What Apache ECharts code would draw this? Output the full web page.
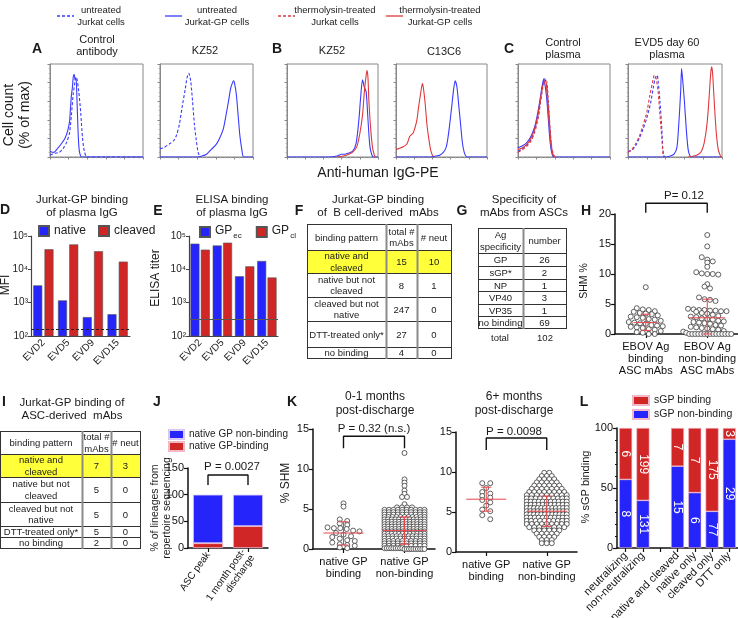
<!DOCTYPE html>
<html><head><meta charset="utf-8">
<script src="https://cdn.jsdelivr.net/npm/echarts/dist/echarts.min.js"></script>
<style>html,body{margin:0;padding:0;background:#fff}#c{width:738px;height:618px}</style>
</head><body><div id="c"></div>
<script>
const FONT = '"Liberation Sans", Arial, Helvetica, sans-serif';
const BLUE = '#2424fb', RED = '#d12626', CBLUE = '#3a3aff', CRED = '#e0393b';

// ---------------- DATA ----------------
const seriesNames = ['untreated Jurkat cells','untreated Jurkat-GP cells','thermolysin-treated Jurkat cells','thermolysin-treated Jurkat-GP cells'];
const legendLine1 = ['untreated','untreated','thermolysin-treated','thermolysin-treated'];
const legendLine2 = ['Jurkat cells','Jurkat-GP cells','Jurkat cells','Jurkat-GP cells'];
const histTitles = ['Control\nantibody','KZ52','KZ52','C13C6','Control\nplasma','EVD5 day 60\nplasma'];

// flow histograms: [position on fluorescence axis (0-100), % of max]
const a1_uJ  = [[0,2],[5,4],[10,5],[14,9],[18,16],[21,26],[23,45],[25,68],[27,82],[28,86],[29,84],[31,70],[33,48],[35,20],[37,6],[40,0],[100,0]];
const a1_uGP = [[0,6],[4,5],[8,9],[12,14],[16,20],[19,28],[21,38],[22,52],[23,66],[24,74],[25,86],[26,89],[27,83],[28,85],[29,62],[30,32],[31,12],[32,4],[34,0],[100,0]];
const a2_uJ  = [[0,9],[4,10],[10,14],[15,18],[18,24],[21,36],[24,55],[27,72],[29,85],[31,90],[33,82],[35,60],[37,35],[39,18],[41,5],[43,0]];
const a2_uGP = [[0,0],[40,0],[45,1],[50,3],[55,8],[60,13],[64,20],[68,30],[71,45],[74,62],[76,74],[78,80],[79,82],[80,80],[82,68],[84,45],[86,22],[88,8],[90,0],[100,0]];
const b1_uGP = [[0,0],[45,0],[55,1],[60,3],[63,3],[67,4],[72,6],[76,15],[79,40],[81,65],[83,83],[85,75],[87,70],[89,40],[91,12],[93,3],[95,0],[100,0]];
const b1_tGP = [[55,0],[62,1],[68,3],[73,6],[77,12],[80,25],[83,45],[85,70],[87,88],[88,93],[89,85],[90,60],[92,30],[94,10],[96,2],[97,0]];
const b2_tGP = [[0,8],[3,9],[8,11],[12,14],[15,22],[17,24],[19,26],[21,32],[23,40],[25,55],[27,68],[29,79],[30,75],[32,58],[34,35],[36,20],[38,8],[40,2],[42,0]];
const b2_uGP = [[0,0],[38,0],[44,1],[48,2],[52,5],[55,10],[57,20],[59,35],[61,52],[63,70],[65,82],[67,75],[69,55],[71,35],[73,15],[75,5],[78,0],[100,0]];
const c1_uGP = [[0,10],[5,12],[10,16],[14,22],[18,32],[21,45],[24,62],[26,75],[28,84],[29,80],[31,65],[33,40],[35,15],[37,3],[39,0],[100,0]];
const c1_tGP = [[0,8],[5,10],[10,14],[14,20],[18,30],[21,42],[24,60],[26,72],[28,80],[30,82],[32,62],[34,35],[36,12],[38,2],[40,0]];
const c1_uJ  = [[0,6],[5,9],[10,13],[14,18],[18,28],[22,45],[25,65],[27,78],[29,84],[31,78],[33,55],[35,25],[37,6],[39,0]];
const c1_tJ  = [[0,5],[5,8],[10,12],[14,17],[18,26],[22,42],[25,62],[27,75],[29,80],[31,82],[33,60],[35,30],[37,8],[40,0]];
const c2_uJ  = [[0,6],[4,7],[8,12],[12,20],[16,30],[20,42],[24,58],[27,75],[29,85],[31,88],[32,82],[34,60],[36,30],[37,10],[38,2],[39,0]];
const c2_tJ  = [[0,5],[4,8],[8,14],[12,22],[16,34],[20,48],[23,65],[26,80],[28,88],[30,84],[32,70],[34,45],[36,20],[37,5],[38,0]];
const c2_uGP = [[0,0],[40,0],[45,1],[49,3],[52,10],[54,35],[56,70],[57,95],[58,85],[60,60],[62,30],[64,8],[66,1],[68,0],[100,0]];
const c2_tGP = [[64,0],[70,1],[75,3],[78,6],[81,15],[84,35],[86,60],[88,90],[89,97],[90,90],[92,55],[94,25],[96,8],[98,2],[99,0]];

const evdCats = ['EVD2','EVD5','EVD9','EVD15'];
const mfiNative = [3300, 1170, 370, 450];
const mfiCleaved = [40000, 56000, 35000, 17000];
const mfiCutoff = 155;
const elisaGPec = [59000, 52000, 6200, 17800];
const elisaGPcl = [39000, 63000, 12300, 5700];
const elisaCutoff = 316;

const tableFHeader = ['binding pattern','total #\nmAbs','# neut'];
const tableFRows = [['native and\ncleaved','15','10'],['native but not\ncleaved','8','1'],['cleaved but not\nnative','247','0'],['DTT-treated only*','27','0'],['no binding','4','0']];
const tableGHeader = ['Ag\nspecificity','number'];
const tableGRows = [['GP','26'],['sGP*','2'],['NP','1'],['VP40','3'],['VP35','1'],['no binding','69']];
const tableGTotal = ['total','102'];
const tableIHeader = ['binding pattern','total #\nmAbs','# neut'];
const tableIRows = [['native and\ncleaved','7','3'],['native but not\ncleaved','5','0'],['cleaved but not\nnative','5','0'],['DTT-treated only*','5','0'],['no binding','2','0']];

const shmCats = ['EBOV Ag\nbinding\nASC mAbs','EBOV Ag\nnon-binding\nASC mAbs'];
const shmBinding = [7.8,4.3,4.1,4.0,3.8,3.7,3.5,3.4,3.3,3.1,2.9,2.8,2.7,2.5,2.4,2.2,2.0,1.9,1.8,1.7,1.5,1.4,1.3,1.2,1.1,1.0,0.8,0.7,0.5,0.3,0.2,0,0];
const shmNonBinding = [16.5,14.6,12.8,12.4,12.1,11.9,11.2,10.3,10.1,10.0,10.0,9.9,8.3,7.9,7.6,6.1,5.8,5.7,5.5,4.2,4.1,4.0,4.0,3.9,3.9,3.8,3.8,3.7,3.5,3.4,3.2,3.0,2.9,2.8,2.6,2.5,2.4,2.2,2.1,2.0,1.9,1.8,1.7,1.5,1.4,1.2,1.1,1.0,0.9,0.8,0.7,0.5,0.4,0.2,0,0,0,0,0,0,0,0,0,0,0,0,0,0,0];
const shmStats = [[1.9,0.6,3.3],[2.7,0,5.8]]; // mean, low, high
const shmP = 'P= 0.12';

const lineageCats = ['ASC peak','1 month post-\ndischarge'];
const lineageBinding = [9, 41];
const lineageNonBinding = [91, 59];
const lineageP = 'P = 0.0027';

const kCats = ['native GP\nbinding','native GP\nnon-binding'];
const earlyBinding = [5.7,5.3,3.7,3.5,3.2,3.0,2.7,2.6,2.6,2.5,2.3,2.2,2.0,1.8,1.6,1.5,1.3,1.1,1.0,0.8,0.6,0.5,0.4,0.2,0.1];
const earlyNonBindingRows = [[12.0,1],[8.7,1],[8.3,1],[7.9,1],[7.3,1],[6.9,1],[6.5,2],[5.6,1],[5.2,4],[4.9,10],[4.6,10],[4.3,10],[4.0,11],[3.7,12],[3.4,12],[3.1,12],[2.8,12],[2.5,12],[2.2,12],[1.9,12],[1.6,11],[1.3,11],[1.0,10],[0.7,10],[0.4,10],[0.1,9],[0,10]];
const earlyStats = [[2.0,0.5,3.4],[2.3,0.6,4.0]];
const earlyP = 'P = 0.32 (n.s.)';
const lateBinding = [8.6,8.6,8.0,7.5,7.3,7.0,6.8,6.5,6.2,5.8,5.3,5.1,4.6,4.1];
const lateNonBindingRows = [[9.9,2],[9.5,3],[9.1,4],[8.7,5],[8.3,6],[7.9,7],[7.5,8],[7.1,9],[6.7,10],[6.3,11],[5.9,11],[5.5,12],[5.1,12],[4.7,12],[4.3,11],[3.9,10],[3.5,9],[3.1,8],[2.7,6],[2.3,5],[1.9,4],[1.5,3],[1.1,3]];
const lateStats = [[6.6,5.1,8.1],[5.1,3.2,7.0]];
const lateP = 'P = 0.0098';

const sgpCats = ['neutralizing','non-neutralizing','','native and cleaved','native only','cleaved only','DTT only'];
const sgpBinding = [6,199,null,7,7,175,3];
const sgpNonBinding = [8,131,null,15,6,77,29];

// ---------------- BUILD ----------------
const grids=[], xAxes=[], yAxes=[], series=[], legends=[], els=[];
function addGrid(l,t,w,h,extra){ grids.push(Object.assign({left:l,top:t,width:w,height:h,containLabel:false,outerBoundsMode:'none'},extra||{})); return grids.length-1; }
function addX(o){ xAxes.push(o); return xAxes.length-1; }
function addY(o){ yAxes.push(o); return yAxes.length-1; }
function txt(x,y,text,size,opt){ opt=opt||{}; return {type:'text', x:x, y:y, rotation:opt.rot||0, z:20, silent:true,
  style:{text:text, fill:opt.color||'#1a1a1a', font:(opt.bold?'bold ':'')+size+'px '+FONT, textAlign:opt.align||'center', textVerticalAlign:'middle', align:opt.align||'center', verticalAlign:'middle', lineHeight:opt.lh||Math.round(size*1.15)}}; }
function ln(x1,y1,x2,y2,c,w){ return {type:'line', z:15, silent:true, shape:{x1:x1,y1:y1,x2:x2,y2:y2}, style:{stroke:c||'#333', lineWidth:w||1}}; }

// ---- histograms
const histBoxes = [[50,64,93,93],[160,64,93,93],[287,64,91,93],[396,64,91,93],[518,64,92,93],[628,64,94,93]];
const histCurves = [
  [[a1_uJ,0],[a1_uGP,1]],
  [[a2_uJ,0],[a2_uGP,1]],
  [[b1_uGP,1],[b1_tGP,3]],
  [[b2_tGP,3],[b2_uGP,1]],
  [[c1_uJ,0],[c1_uGP,1],[c1_tJ,2],[c1_tGP,3]],
  [[c2_uJ,0],[c2_tJ,2],[c2_uGP,1],[c2_tGP,3]]
];
const curveColor = [CBLUE,CBLUE,CRED,CRED];
const curveDash = [[3,2],'solid',[3,2],'solid'];
const thinAxis = function(){ return {axisLine:{show:true,onZero:false,lineStyle:{color:'#888',width:1}}, axisTick:{show:true,length:2.5,lineStyle:{color:'#888'}},
  minorTick:{show:true,splitNumber:4,length:1.3,lineStyle:{color:'#aaa'}}, axisLabel:{show:false}, splitLine:{show:false}}; };
histBoxes.forEach(function(b,bi){
  const gi = addGrid(b[0],b[1],b[2],b[3],{show:true,borderColor:'#888',borderWidth:1,backgroundColor:'transparent'});
  const xi = addX(Object.assign({gridIndex:gi,type:'value',min:0,max:100,interval:20},thinAxis()));
  const yi = addY(Object.assign({gridIndex:gi,type:'value',min:0,max:100,interval:20},thinAxis()));
  histCurves[bi].forEach(function(c){
    series.push({type:'line', name:seriesNames[c[1]], xAxisIndex:xi, yAxisIndex:yi, data:c[0], symbol:'none', smooth:0.25,
      lineStyle:{color:curveColor[c[1]], width:1.1, type:curveDash[c[1]]}, itemStyle:{color:curveColor[c[1]]}, silent:true});
  });
});
const histTitlePos = [[97,46],[205,51],[332,51],[444,52],[563,49],[667,49]];
histTitles.forEach(function(t,i){ els.push(txt(histTitlePos[i][0],histTitlePos[i][1],t,11,{lh:12})); });
els.push(txt(17,115,'Cell count\n(% of max)',14,{rot:Math.PI/2,lh:16}));
els.push(txt(378,173,'Anti-human IgG-PE',14));
// top legends: [icon left, text box width]; icons as thin solid / dashed strokes
const ICON_SOLID = 'path://M0,0L17,0L17,1.3L0,1.3Z';
const ICON_DASH = 'path://M0,0L3,0L3,1.3L0,1.3ZM5,0L8,0L8,1.3L5,1.3ZM10,0L13,0L13,1.3L10,1.3ZM15,0L17,0L17,1.3L15,1.3Z';
const legPos = [[52,44],[160,60],[273,70],[381,64]];
seriesNames.forEach(function(n,i){
  legends.push({left:legPos[i][0], top:0, itemWidth:17, itemHeight:10, selectedMode:false,
    data:[{name:n, icon:(i%2===0)?ICON_DASH:ICON_SOLID}], formatter:function(){ return '{t|'+legendLine1[i]+'}\n{t|'+legendLine2[i]+'}'; },
    textStyle:{rich:{t:{width:legPos[i][1],align:'center',fontSize:9.5,lineHeight:12,fontFamily:FONT,color:'#222'}}}});
});

// ---- D & E bar charts
const SUP = {2:'\u00B2',3:'\u00B3',4:'\u2074',5:'\u2075'};
function logPanel(l,t,w,h){
  const gi = addGrid(l,t,w,h);
  const xi = addX({gridIndex:gi,type:'category',data:evdCats,axisLine:{lineStyle:{color:'#444',width:1.2}},
    axisTick:{alignWithLabel:true,length:3,lineStyle:{color:'#444'}},
    axisLabel:{rotate:45,fontSize:10,margin:5,color:'#222',fontFamily:FONT,interval:0}});
  const yi = addY({gridIndex:gi,type:'log',logBase:10,min:100,max:100000,axisLine:{show:true,lineStyle:{color:'#444',width:1.2}},
    axisTick:{show:true,length:3,lineStyle:{color:'#444'}},splitLine:{show:false},
    axisLabel:{formatter:function(v){return '10'+SUP[Math.round(Math.log10(v))];},fontSize:10,margin:3,color:'#222',fontFamily:FONT}});
  return [xi,yi];
}
let ax = logPanel(31,236,99,100);
series.push({type:'bar',name:'native',xAxisIndex:ax[0],yAxisIndex:ax[1],data:mfiNative,barWidth:9,barGap:'25%',clip:true,
  itemStyle:{color:BLUE,borderColor:'#555',borderWidth:0.6},
  markLine:{silent:true,symbol:'none',label:{show:false},lineStyle:{type:[3,2],color:'#222',width:1},data:[{yAxis:mfiCutoff}]}});
series.push({type:'bar',name:'cleaved',xAxisIndex:ax[0],yAxisIndex:ax[1],data:mfiCleaved,barWidth:9,barGap:'25%',clip:true,
  itemStyle:{color:RED,borderColor:'#555',borderWidth:0.6}});
ax = logPanel(189,236,89,100);
series.push({type:'bar',name:'GPec',xAxisIndex:ax[0],yAxisIndex:ax[1],data:elisaGPec,barWidth:9,barGap:'15%',clip:true,
  itemStyle:{color:BLUE,borderColor:'#555',borderWidth:0.6},
  markLine:{silent:true,symbol:'none',label:{show:false},lineStyle:{type:'solid',color:'#555',width:1},data:[{yAxis:elisaCutoff}]}});
series.push({type:'bar',name:'GPcl',xAxisIndex:ax[0],yAxisIndex:ax[1],data:elisaGPcl,barWidth:9,barGap:'15%',clip:true,
  itemStyle:{color:RED,borderColor:'#555',borderWidth:0.6}});
legends.push({left:33,top:220,itemWidth:10,itemHeight:10,itemGap:12,selectedMode:false,icon:'rect',data:['native','cleaved'],
  textStyle:{fontSize:12,color:'#222',fontFamily:FONT}});
legends.push({left:194,top:220,itemWidth:10,itemHeight:10,itemGap:14,selectedMode:false,icon:'rect',data:['GPec','GPcl'],
  formatter:function(n){return '{m|GP}{s|'+n.slice(2)+'}';},
  textStyle:{fontSize:12,color:'#222',fontFamily:FONT,rich:{m:{fontSize:12,fontFamily:FONT,color:'#222',verticalAlign:'top',lineHeight:14},s:{fontSize:8,fontFamily:FONT,color:'#222',verticalAlign:'top',lineHeight:9,padding:[7,0,0,1]}}}});
els.push(txt(82,206,'Jurkat-GP binding\nof plasma IgG',11.5,{lh:13}));
els.push(txt(232,206,'ELISA binding\nof plasma IgG',11.5,{lh:13}));
els.push(txt(6,285,'MFI',12,{rot:Math.PI/2}));
els.push(txt(156,278,'ELISA titer',12,{rot:Math.PI/2}));

// ---- tables
function table(colX,rowY,rows,hl){
  const x0=colX[0], x1=colX[colX.length-1];
  if(hl!=null) els.push({type:'rect',z:10,silent:true,shape:{x:x0,y:rowY[hl],width:x1-x0,height:rowY[hl+1]-rowY[hl]},style:{fill:'#ffff3a'}});
  rowY.forEach(function(y){ els.push(ln(x0,y+0.5,x1,y+0.5,'#333',1)); });
  colX.forEach(function(x,i){ const edge=(i===0||i===colX.length-1); els.push(ln(x+0.5,rowY[0],x+0.5,rowY[rowY.length-1]+1,edge?'#333':'#8a8a8a',edge?1:2)); });
  rows.forEach(function(r,ri){ r.forEach(function(t,ci){ els.push(txt((colX[ci]+colX[ci+1])/2,(rowY[ri]+rowY[ri+1])/2+1,t,9.5,{lh:11.5})); }); });
}
table([307,386,417,451],[224,250,273,297,321,347,358],[tableFHeader].concat(tableFRows),1);
els.push(txt(378,206,'Jurkat-GP binding\nof  B cell-derived  mAbs',11.5,{lh:13}));
table([478,523,566],[228,253,266,279,291,304,316,328],[tableGHeader].concat(tableGRows),null);
els.push(txt(500,338,tableGTotal[0],9.5)); els.push(txt(545,338,tableGTotal[1],9.5));
els.push(txt(524,206,'Specificity of\nmAbs from ASCs',11.5,{lh:13}));
table([0,82,111,140],[431,454,477,502,526,537,548],[tableIHeader].concat(tableIRows),1);
els.push(txt(72,409,'Jurkat-GP binding of\nASC-derived  mAbs',11.5,{lh:13}));

// ---- dot plots
const gpAxisLine = {show:true,onZero:false,lineStyle:{color:'#111',width:1.5}};
const gpTick = {show:true,length:4,lineStyle:{color:'#111',width:1.2}};
function swarm(vals,pxPerUnit,binPx,sp0,maxHalf){
  const bins={}; const off=vals.map(function(){return 0;});
  vals.forEach(function(v,i){ const k=Math.round(v*pxPerUnit/binPx); (bins[k]=bins[k]||[]).push(i); });
  Object.keys(bins).forEach(function(k){ const ids=bins[k]; const n=ids.length; const sp=n>1?Math.min(sp0,2*maxHalf/(n-1)):0;
    ids.forEach(function(id,j){ off[id]=(j-(n-1)/2)*sp; }); });
  return off;
}
function expandRows(rows){ const out=[]; rows.forEach(function(r){ for(let i=0;i<r[1];i++) out.push(r[0]); }); return out; }
function dotPanel(l,t,w,h,cats,ymax,groups,stats,hw,bracket){
  const gi=addGrid(l,t,w,h);
  addX({gridIndex:gi,type:'category',data:cats,axisLine:gpAxisLine,axisTick:Object.assign({alignWithLabel:true},gpTick),
    axisLabel:{interval:0,fontSize:11,lineHeight:12,margin:7,color:'#111',fontFamily:FONT}});
  const xv=addX({gridIndex:gi,type:'value',min:-0.5,max:1.5,show:false});
  const yi=addY({gridIndex:gi,type:'value',min:0,max:ymax,interval:5,axisLine:gpAxisLine,axisTick:gpTick,splitLine:{show:false},
    axisLabel:{fontSize:11,margin:4,color:'#111',fontFamily:FONT}});
  const ppu=h/ymax, unit=w/2;
  groups.forEach(function(g,gi2){
    const off=swarm(g.vals,ppu,g.bin,g.sp,g.half);
    series.push({type:'scatter',xAxisIndex:xv,yAxisIndex:yi,data:g.vals.map(function(v,i){return [gi2+off[i]/unit,v];}),
      symbol:'circle',symbolSize:5,clip:false,silent:true,z:3,itemStyle:{color:'#fff',borderColor:'#3a3a3a',borderWidth:0.8,opacity:1}});
  });
  series.push({type:'custom',xAxisIndex:xv,yAxisIndex:yi,z:6,silent:true,clip:false,data:stats.map(function(s,i){return [i,s[0],s[1],s[2]];}),
    renderItem:function(p,api){ const x=api.value(0); const m=api.coord([x,api.value(1)]), lo=api.coord([x,api.value(2)]), hi=api.coord([x,api.value(3)]);
      const st={stroke:'#e8454a',lineWidth:1}; const half=hw[p.dataIndex];
      return {type:'group',children:[
        {type:'line',shape:{x1:m[0]-half,y1:m[1],x2:m[0]+half,y2:m[1]},style:st},
        {type:'line',shape:{x1:lo[0],y1:lo[1],x2:hi[0],y2:hi[1]},style:st},
        {type:'line',shape:{x1:lo[0]-5,y1:lo[1],x2:lo[0]+5,y2:lo[1]},style:st},
        {type:'line',shape:{x1:hi[0]-5,y1:hi[1],x2:hi[0]+5,y2:hi[1]},style:st}]}; }});
  series.push({type:'line',xAxisIndex:xv,yAxisIndex:yi,data:[[0,bracket[0]],[0,bracket[1]],[1,bracket[1]],[1,bracket[0]]],
    symbol:'none',clip:false,silent:true,z:6,lineStyle:{color:'#111',width:1.4}});
}
dotPanel(615,214,123,120,shmCats,20,[{vals:shmBinding,bin:5,sp:6,half:17},{vals:shmNonBinding,bin:5,sp:5.5,half:24}],shmStats,[12,18],[20.2,21.8]);
els.push(txt(684,196,shmP,11.5));
els.push(txt(584,281,'SHM %',10.5,{rot:Math.PI/2}));
dotPanel(313,429,122,120,kCats,15,[{vals:earlyBinding,bin:5,sp:7.5,half:16},{vals:expandRows(earlyNonBindingRows),bin:2,sp:5,half:20}],earlyStats,[20,22],[12.6,14.1]);
els.push(txt(374,429,earlyP,11.5));
els.push(txt(286,483,'% SHM',12,{rot:Math.PI/2}));
els.push(txt(375,404,'0-1 months\npost-discharge',12,{lh:14}));
dotPanel(456,432,121,120,kCats,15,[{vals:lateBinding,bin:5,sp:8,half:14},{vals:expandRows(lateNonBindingRows),bin:2,sp:5,half:20}],lateStats,[20,20],[12.75,14.25]);
els.push(txt(514,432,lateP,11.5));
els.push(txt(514,404,'6+ months\npost-discharge',12,{lh:14}));

// ---- J stacked bars
(function(){
  const gi=addGrid(188,468,80,80);
  const xi=addX({gridIndex:gi,type:'category',data:lineageCats,axisLine:gpAxisLine,axisTick:Object.assign({alignWithLabel:true},gpTick),
    axisLabel:{interval:0,rotate:55,fontSize:10,lineHeight:11,margin:5,color:'#111',fontFamily:FONT}});
  const yi=addY({gridIndex:gi,type:'value',min:0,max:150,interval:50,axisLine:gpAxisLine,axisTick:gpTick,splitLine:{show:false},
    axisLabel:{fontSize:11,margin:4,color:'#111',fontFamily:FONT}});
  series.push({type:'bar',name:'native GP-binding',stack:'j',xAxisIndex:xi,yAxisIndex:yi,data:lineageBinding,barWidth:30,itemStyle:{color:RED,borderColor:'#f2b8c8',borderWidth:0.8}});
  series.push({type:'bar',name:'native GP non-binding',stack:'j',xAxisIndex:xi,yAxisIndex:yi,data:lineageNonBinding,barWidth:30,itemStyle:{color:BLUE,borderColor:'#d8c8f4',borderWidth:0.8}});
  series.push({type:'line',xAxisIndex:xi,yAxisIndex:yi,data:[[0,118],[0,137],[1,137],[1,118]],symbol:'none',clip:false,silent:true,lineStyle:{color:'#111',width:1.4}});
})();
legends.push({left:163,top:424,orient:'vertical',itemWidth:15,itemHeight:9,itemGap:1,selectedMode:false,icon:'rect',
  data:['native GP non-binding','native GP-binding'],textStyle:{fontSize:10,color:'#222',fontFamily:FONT}});
els.push(txt(232,467,lineageP,11.5));
els.push(txt(161,508,'% of lineages from\nrepertoire sequencing',10.5,{rot:Math.PI/2,lh:11.5}));

// ---- L stacked percent bars
(function(){
  const gi=addGrid(617,428,121,120);
  const xi=addX({gridIndex:gi,type:'category',data:sgpCats,axisLine:gpAxisLine,axisTick:Object.assign({alignWithLabel:true,interval:0},gpTick),
    axisLabel:{interval:0,rotate:45,fontSize:11,margin:6,color:'#111',fontFamily:FONT}});
  const yi=addY({gridIndex:gi,type:'value',min:0,max:100,interval:50,axisLine:gpAxisLine,axisTick:gpTick,splitLine:{show:false},
    minorTick:{show:true,splitNumber:5,length:2,lineStyle:{color:'#111'}},
    axisLabel:{fontSize:11,margin:4,color:'#111',fontFamily:FONT}});
  const tot=sgpBinding.map(function(b,i){return b==null?null:b+sgpNonBinding[i];});
  const lab=function(arr){return {show:true,position:'inside',rotate:-90,color:'#fff',fontSize:12,fontFamily:FONT,formatter:function(p){return arr[p.dataIndex];}};};
  series.push({type:'bar',name:'sGP non-binding',stack:'l',xAxisIndex:xi,yAxisIndex:yi,barWidth:13,
    data:sgpNonBinding.map(function(n,i){return n==null?null:n/tot[i]*100;}),itemStyle:{color:BLUE,borderColor:'#f2b8c8',borderWidth:0.6},label:lab(sgpNonBinding)});
  series.push({type:'bar',name:'sGP binding',stack:'l',xAxisIndex:xi,yAxisIndex:yi,barWidth:13,
    data:sgpBinding.map(function(b,i){return b==null?null:b/tot[i]*100;}),itemStyle:{color:RED,borderColor:'#f2b8c8',borderWidth:0.6},label:lab(sgpBinding)});
})();
legends.push({left:627,top:390,orient:'vertical',itemWidth:16,itemHeight:9,itemGap:3,selectedMode:false,icon:'rect',
  data:['sGP binding','sGP non-binding'],textStyle:{fontSize:10.5,color:'#222',fontFamily:FONT}});
els.push(txt(586,487,'% sGP binding',11,{rot:Math.PI/2}));

// ---- panel letters
[['A',37,49],['B',277,49],['C',509,49],['D',5,210],['E',158,211],['F',299,211],['G',462,211],['H',586,211],
 ['I',4,402],['J',157,402],['K',292,402],['L',584,402]].forEach(function(a){ els.push(txt(a[1],a[2],a[0],14,{bold:true})); });

const chart = echarts.init(document.getElementById('c'), null, {renderer:'canvas'});
chart.setOption({
  animation:false, backgroundColor:'#fff',
  textStyle:{fontFamily:FONT},
  grid:grids, xAxis:xAxes, yAxis:yAxes, series:series, legend:legends,
  graphic:{elements:els}
});
</script></body></html>
